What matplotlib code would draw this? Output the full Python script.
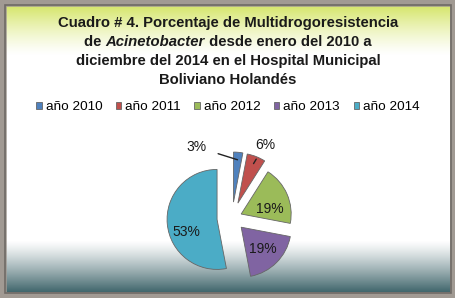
import matplotlib
matplotlib.use("Agg")
import matplotlib.pyplot as plt
import numpy as np
from matplotlib.patches import Rectangle

# data
years = ['año 2010', 'año 2011', 'año 2012', 'año 2013', 'año 2014']
porcentajes = [3, 6, 19, 19, 53]
colores = ['#4f81bd', '#c0504d', '#9bbb59', '#8064a2', '#4bacc6']
titulo = [
    [("Cuadro # 4. Porcentaje de Multidrogoresistencia", 'normal')],
    [("de ", 'normal'), ("Acinetobacter", 'italic'), (" desde enero del 2010 a", 'normal')],
    [("diciembre del 2014 en el Hospital Municipal", 'normal')],
    [("Boliviano Holandés", 'normal')],
]

plt.rcParams['font.family'] = ['Liberation Sans', 'DejaVu Sans']

W, H = 456, 298
fig = plt.figure(figsize=(W / 100, H / 100), dpi=100)

# background with gradients
bg = fig.add_axes([0, 0, 1, 1])
bg.set_xlim(0, W)
bg.set_ylim(H, 0)
bg.axis('off')
img = np.ones((H, W, 3))
top = np.array([208, 226, 85]) / 255
bot = np.array([62, 100, 106]) / 255
for y in range(H):
    if y < 55:
        t = (1 - y / 55) ** 1.3
        img[y] = top * t + (1 - t)
    elif y > 240:
        t = min(((y - 240) / 52) ** 1.2, 1)
        img[y] = bot * t + (1 - t)
bg.imshow(img, extent=(0, W, H, 0), aspect='auto', zorder=0)
bg.add_patch(Rectangle((0, 0), W, H, fill=False, edgecolor='#a19a93', lw=9, zorder=2))
bg.add_patch(Rectangle((5, 5), W - 10, H - 10, fill=False, edgecolor='#6f6a66', lw=1.2, zorder=2))

# title, line by line (second line has an italic word)
renderer = fig.canvas.get_renderer()
for n, partes in enumerate(titulo):
    ycen = 23 + 19 * n
    objs = [bg.text(0, ycen, s, fontsize=10.7, fontweight='bold', style=st,
                    color='#1a1a1a', ha='left', va='center') for s, st in partes]
    widths = [o.get_window_extent(renderer).width for o in objs]
    x = W / 2 - sum(widths) / 2
    for o, w in zip(objs, widths):
        o.set_x(x)
        x += w

# pie
ax = fig.add_axes([152 / W, 0 / H, 160 / W, 160 / H])
wedges, texts, autotexts = ax.pie(
    porcentajes, colors=colores, startangle=90, counterclock=False,
    explode=[0.32, 0.32, 0.2, 0.26, 0.3], autopct='%1.0f%%', pctdistance=0.62,
    textprops={'fontsize': 10, 'color': '#1a1a1a'},
    wedgeprops={'linewidth': 0.6, 'edgecolor': '#666666'})
ax.set_xlim(-1.6, 1.6)
ax.set_ylim(-1.6, 1.6)
ax.set_aspect('equal')
ax.axis('off')

# nudge big-slice labels down a little (3D look of the original)
for i, dy in [(2, -0.14), (3, 0.0), (4, -0.2)]:
    x, y = autotexts[i].get_position()
    autotexts[i].set_position((x, y + dy))

# small slices: labels outside with leader lines
for i, (dx, dy), shr in zip([0, 1], [(-0.83, 0.26), (0.23, 0.38)], [7, 4]):
    w = wedges[i]
    ang = np.deg2rad((w.theta1 + w.theta2) / 2)
    cx, cy = w.center
    px, py = cx + 0.85 * np.cos(ang), cy + 0.85 * np.sin(ang)
    autotexts[i].set_visible(False)
    ax.annotate(f'{porcentajes[i]}%', xy=(px, py), xytext=(px + dx, py + dy),
                ha='center', va='center', fontsize=10, color='#1a1a1a',
                arrowprops=dict(arrowstyle='-', color='#222222', lw=1,
                                shrinkA=shr, shrinkB=0))

fig.legend(wedges, years, loc='center', bbox_to_anchor=(0.5, 1 - 107 / H),
           ncol=5, frameon=False, fontsize=9.7, handlelength=0.4,
           handleheight=0.4, handletextpad=0.3, columnspacing=1.0)

fig.savefig('out.png', dpi=100)
